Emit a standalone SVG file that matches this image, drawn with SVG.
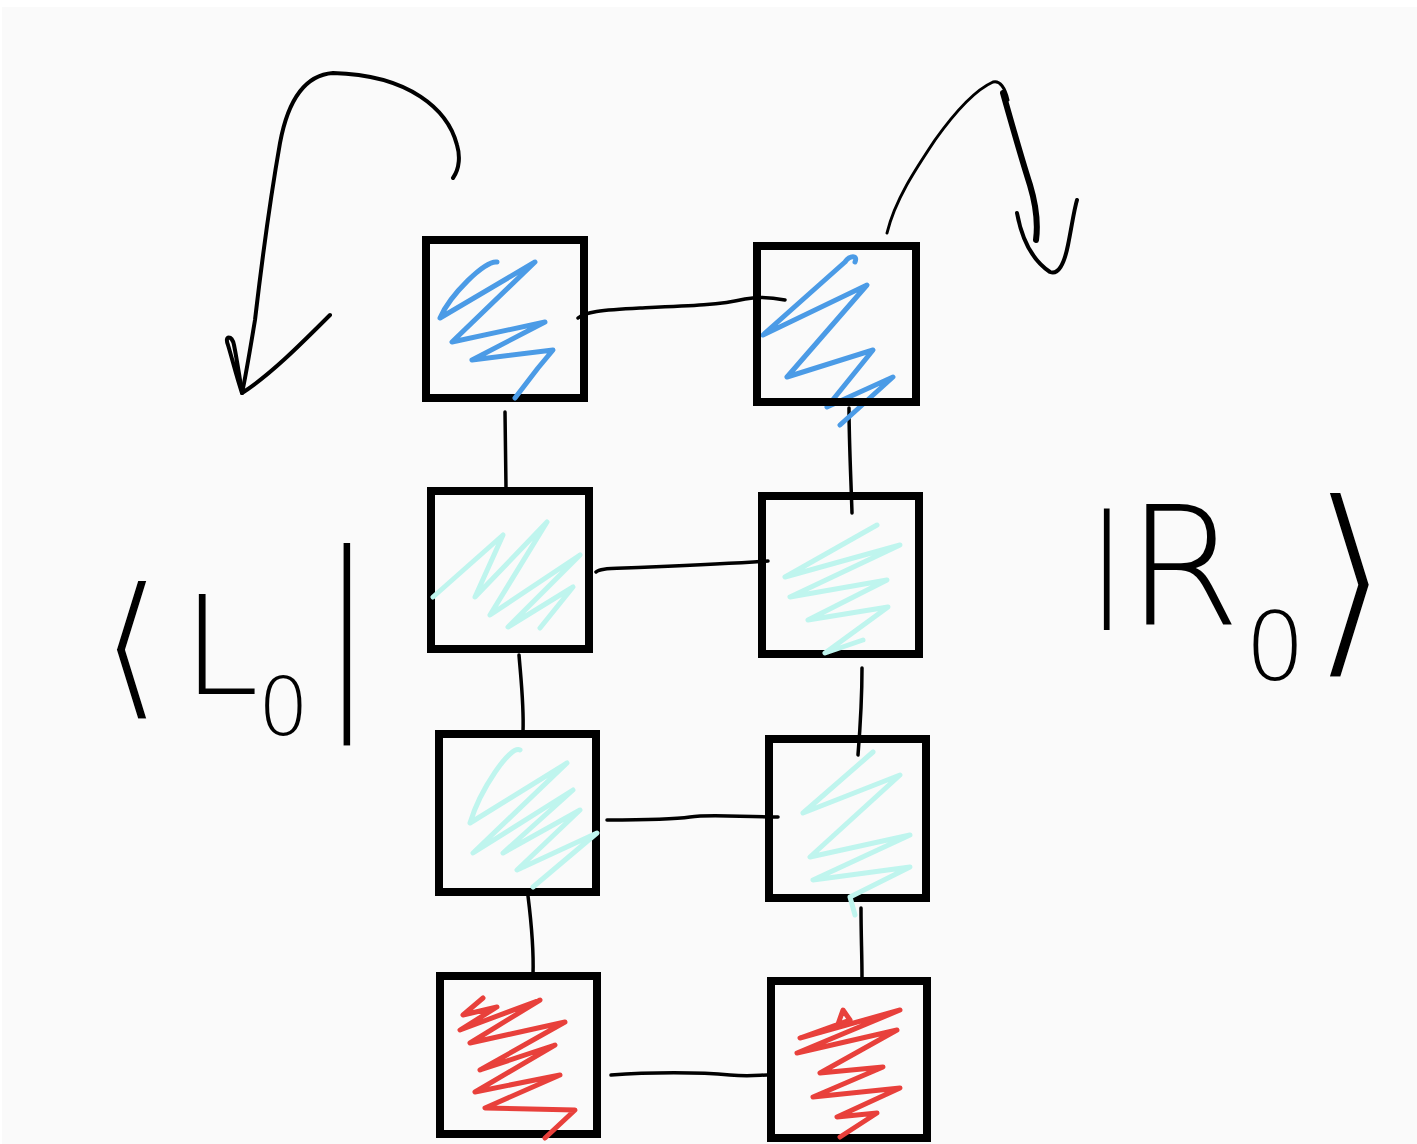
<svg xmlns="http://www.w3.org/2000/svg" width="1417" height="1144" viewBox="0 0 1417 1144">
<style>
.box{fill:none;stroke:#000;stroke-width:8;stroke-linejoin:miter}
.con{fill:none;stroke:#000;stroke-width:3.5;stroke-linecap:round;stroke-linejoin:round}
.arr{fill:none;stroke:#000;stroke-width:4;stroke-linecap:round;stroke-linejoin:round}
.blue{fill:none;stroke:#4b9be6;stroke-width:5;stroke-linecap:round;stroke-linejoin:round}
.cyan{fill:none;stroke:#bff5ee;stroke-width:5;stroke-linecap:round;stroke-linejoin:round}
.red{fill:none;stroke:#e8403b;stroke-width:5;stroke-linecap:round;stroke-linejoin:round}
.lbl{font-family:"DejaVu Sans","Liberation Sans",sans-serif;font-weight:200;fill:#000}
.brk{font-weight:400;stroke:#fafafa;stroke-width:7}
.brk2{font-weight:400;stroke:#fafafa;stroke-width:5}
.thin{stroke:#fafafa;stroke-width:3}
</style>
<rect x="0" y="0" width="1417" height="1144" fill="#ffffff"/>
<rect x="2" y="7" width="1415" height="1137" fill="#fafafa"/>

<g id="connectors">
  <path class="con" d="M578,318 C585,312 600,310 640,308 C690,306 720,305 745,299 C760,296 775,298 785,300"/>
  <path class="con" d="M596,572 C600,568 610,569 650,567 C700,565 740,563 768,561"/>
  <path class="con" d="M607,820 C640,820 670,820 690,817 C710,814 740,817 778,817"/>
  <path class="con" d="M611,1075 C650,1072 700,1072 730,1075 C750,1077 760,1075 767,1075"/>
  <path class="con" d="M505,412 L506,488"/>
  <path class="con" d="M519,655 C521,680 524,705 523,732"/>
  <path class="con" d="M528,896 C531,920 534,945 533,975"/>
  <path class="con" d="M849,408 C849,440 851,480 852,513"/>
  <path class="con" d="M862,668 C862,700 860,730 858,755"/>
  <path class="con" d="M861,908 C861,935 862,955 862,978"/>
  <path class="arr" d="M453,178 C460,168 460,155 457,145 C448,110 410,75 333,73 C305,75 288,100 280,143 C270,200 262,260 255,320 C250,350 246,375 242,393"/>
  <path class="arr" d="M242,393 C236,375 232,358 228,345 C224,335 232,335 234,345 C237,360 240,380 242,393 C270,375 300,345 330,315"/>
  <path class="arr" d="M887,233 C895,200 915,170 935,140 C955,112 975,90 993,82 C1000,80 1005,88 1008,100" style="stroke-width:3"/>
  <path class="arr" d="M1003,93 C1012,125 1022,160 1030,185 C1036,205 1038,225 1036,240" style="stroke-width:6"/>
  <path class="arr" d="M1017,213 C1022,240 1032,260 1050,272 C1058,275 1064,265 1068,245 C1072,225 1074,210 1077,200"/>
</g>

<g id="node-l1">
  <rect class="box" x="426" y="240" width="158" height="158"/>
  <path class="blue" d="M497,262 C485,260 450,295 440,318 L535,262 L452,342 L545,322 L472,360 L553,350 L538,368 L515,398"/>
</g>
<g id="node-r1">
  <path class="blue" d="M855,262 C858,255 850,255 845,262 L763,335 L867,285 L787,377 L873,350 L827,407 L893,377 L840,425"/>
  <rect class="box" x="757" y="246" width="159" height="156"/>
</g>
<g id="node-l2">
  <rect class="box" x="431" y="491" width="158" height="158"/>
  <path class="cyan" d="M433,597 L503,535 L475,597 L547,522 L490,615 L580,555 L508,627 L573,587 L540,628"/>
</g>
<g id="node-r2">
  <rect class="box" x="762" y="496" width="157" height="158"/>
  <path class="cyan" d="M877,525 L785,577 L900,545 L790,597 L887,580 L808,620 L888,607 L825,653 L863,640"/>
</g>
<g id="node-l3">
  <rect class="box" x="439" y="734" width="157" height="158"/>
  <path class="cyan" d="M520,750 C510,745 480,790 470,823 L567,763 L473,853 L573,790 L503,853 L580,810 L517,870 L597,833 L533,887"/>
</g>
<g id="node-r3">
  <rect class="box" x="769" y="739" width="157" height="159"/>
  <path class="cyan" d="M873,752 L803,813 L900,775 L810,857 L910,835 L813,880 L910,867 L850,897 L855,915"/>
</g>
<g id="node-l4">
  <rect class="box" x="440" y="976" width="157" height="158"/>
  <path class="red" d="M483,998 L463,1015 L497,1007 L460,1030 L540,1000 L470,1043 L565,1022 L480,1070 L555,1045 L475,1092 L560,1075 L485,1108 L575,1110 L545,1138"/>
</g>
<g id="node-r4">
  <rect class="box" x="771" y="981" width="156" height="157"/>
  <path class="red" d="M837,1027 L843,1010 L850,1020 L800,1038 L900,1010 L797,1053 L897,1030 L820,1073 L883,1067 L813,1097 L900,1088 L837,1117 L877,1113 L840,1137"/>
</g>

<g id="label-left">
  <text class="lbl"><tspan class="brk2" x="100" y="700" font-size="160">⟨</tspan><tspan x="182" y="694" font-size="138">L</tspan><tspan x="258" y="735" font-size="80">0</tspan><tspan class="thin" x="312" y="699" font-size="205">|</tspan></text>
</g>
<g id="label-right">
  <text class="lbl"><tspan x="1086" y="601" font-size="122">|</tspan><tspan x="1126" y="625" font-size="165">R</tspan><tspan x="1245" y="680" font-size="95">0</tspan><tspan class="brk" x="1308" y="652" font-size="214">⟩</tspan></text>
</g>
</svg>
